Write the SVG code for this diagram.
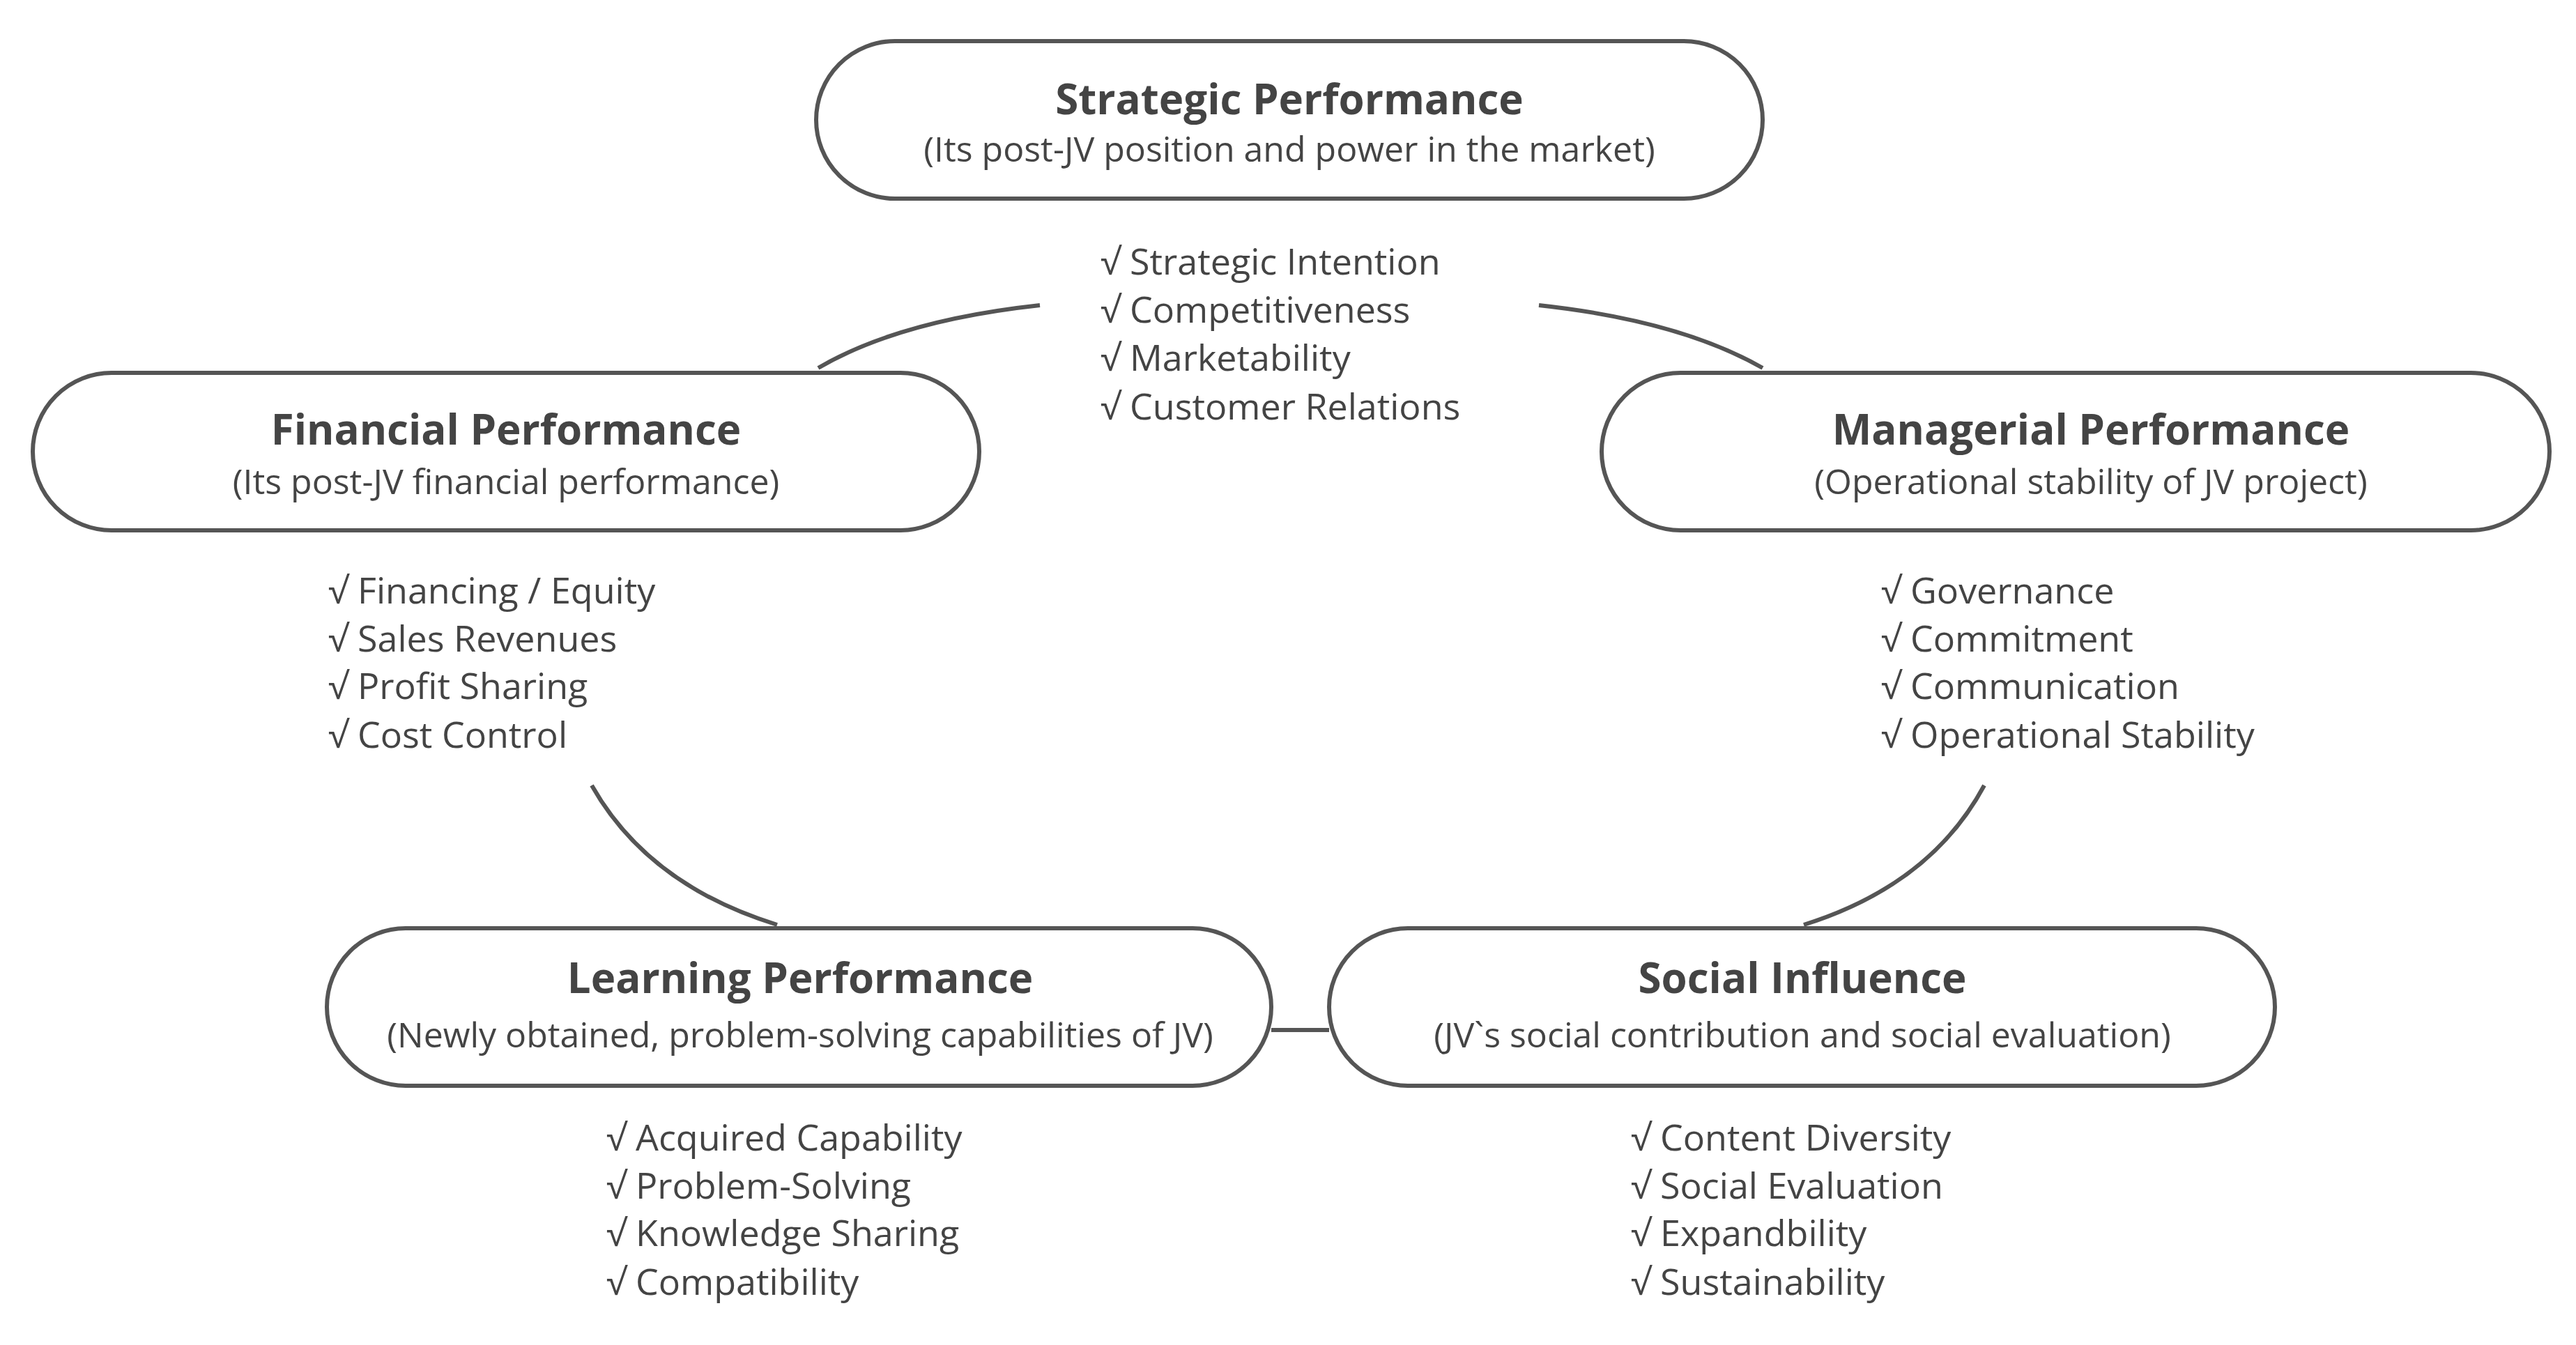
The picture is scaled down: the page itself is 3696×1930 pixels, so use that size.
<svg xmlns="http://www.w3.org/2000/svg" width="3696" height="1930" viewBox="0 0 3696 1930">
<style>
.box{fill:#fff;stroke:#555;stroke-width:6}
.c{fill:none;stroke:#555;stroke-width:6}
text{font-family:"Open Sans","Liberation Sans",sans-serif;fill:#444}
.t{font-size:60px;font-weight:bold;text-anchor:middle}
.s{font-size:50px;text-anchor:middle}
.l{font-size:52px}
</style>
<rect width="3696" height="1930" fill="#fff"/>
<g id="connectors">
<path class="c" d="M1174,528 Q1290,460 1492,438"/>
<path class="c" d="M2208,438 Q2410,460 2529,528"/>
<path class="c" d="M849,1127 Q930,1270 1115,1327"/>
<path class="c" d="M2847,1127 Q2770,1270 2588,1327"/>
<path class="c" d="M1824,1478 H1907"/>
</g>
<g id="strategic">
<rect class="box" x="1171" y="59" width="1358" height="226" rx="113"/>
<text class="t" x="1850" y="164">Strategic  Performance</text>
<text class="s" x="1850" y="232">(Its post-JV position and power in the market)</text>
<text class="l" x="1579" y="394">√ Strategic Intention</text>
<text class="l" x="1579" y="463">√ Competitiveness</text>
<text class="l" x="1579" y="532">√ Marketability</text>
<text class="l" x="1579" y="602">√ Customer Relations</text>
</g>
<g id="financial">
<rect class="box" x="47" y="535" width="1358" height="226" rx="113"/>
<text class="t" x="726" y="638">Financial  Performance</text>
<text class="s" x="726" y="709">(Its post-JV financial performance)</text>
<text class="l" x="471" y="866">√ Financing / Equity</text>
<text class="l" x="471" y="935">√ Sales Revenues</text>
<text class="l" x="471" y="1003">√ Profit Sharing</text>
<text class="l" x="471" y="1073">√ Cost Control</text>
</g>
<g id="managerial">
<rect class="box" x="2298" y="535" width="1360" height="226" rx="113"/>
<text class="t" x="3000" y="638">Managerial  Performance</text>
<text class="s" x="3000" y="709">(Operational stability of JV project)</text>
<text class="l" x="2699" y="866">√ Governance</text>
<text class="l" x="2699" y="935">√ Commitment</text>
<text class="l" x="2699" y="1003">√ Communication</text>
<text class="l" x="2699" y="1073">√ Operational Stability</text>
</g>
<g id="learning">
<rect class="box" x="469" y="1332" width="1355" height="226" rx="113"/>
<text class="t" x="1148" y="1425">Learning  Performance</text>
<text class="s" x="1148" y="1503">(Newly obtained, problem-solving capabilities of JV)</text>
<text class="l" x="870" y="1651">√ Acquired Capability</text>
<text class="l" x="870" y="1720">√ Problem-Solving</text>
<text class="l" x="870" y="1788">√ Knowledge Sharing</text>
<text class="l" x="870" y="1858">√ Compatibility</text>
</g>
<g id="social">
<rect class="box" x="1907" y="1332" width="1357" height="226" rx="113"/>
<text class="t" x="2586" y="1425">Social  Influence</text>
<text class="s" x="2586" y="1503">(JV`s social contribution and social evaluation)</text>
<text class="l" x="2340" y="1651">√ Content Diversity</text>
<text class="l" x="2340" y="1720">√ Social Evaluation</text>
<text class="l" x="2340" y="1788">√ Expandbility</text>
<text class="l" x="2340" y="1858">√ Sustainability</text>
</g>
</svg>
